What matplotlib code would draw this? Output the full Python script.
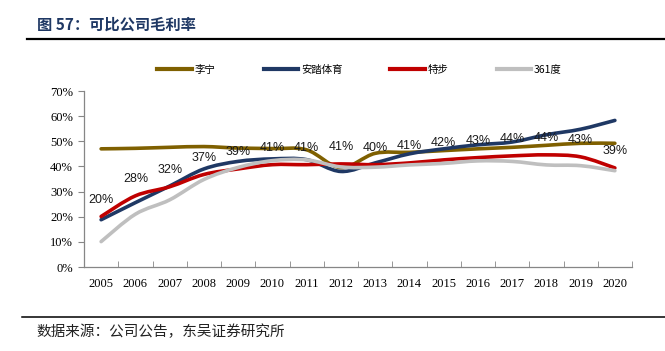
import matplotlib
matplotlib.use("Agg")
import matplotlib.pyplot as plt
from matplotlib.path import Path
from matplotlib.patches import PathPatch
from matplotlib.lines import Line2D

years = ['2005', '2006', '2007', '2008', '2009', '2010', '2011', '2012',
         '2013', '2014', '2015', '2016', '2017', '2018', '2019', '2020']

lining = [47.0, 47.2, 47.6, 47.9, 47.3, 47.1, 46.6, 39.5, 45.2, 45.6, 46.3, 47.0, 47.6, 48.4, 49.2, 49.2]
anta = [18.8, 25.6, 32.2, 39.0, 42.0, 43.0, 42.7, 38.0, 41.4, 45.0, 47.0, 48.6, 49.7, 52.6, 54.8, 58.3]
xtep = [20.1, 28.3, 31.9, 36.8, 39.0, 40.7, 40.7, 41.0, 40.7, 41.4, 42.6, 43.5, 44.2, 44.6, 43.8, 39.4]
s361 = [10.1, 21.0, 26.7, 34.8, 39.6, 42.3, 42.6, 39.8, 39.7, 40.6, 41.2, 42.2, 42.0, 40.6, 40.3, 38.3]

xtep_labels = ['20%', '28%', '32%', '37%', '39%', '41%', '41%', '41%',
               '40%', '41%', '42%', '43%', '44%', '44%', '43%', '39%']

names = ['李宁', '安踏体育', '特步', '361度']
colors = ['#7f6000', '#1f3864', '#c00000', '#bfbfbf']

CJK = ['Noto Sans CJK SC', 'DejaVu Sans']


def smooth_path(ys):
    # catmull-rom style curve through the points, like excel's smoothed lines
    xs = list(range(len(ys)))
    n = len(xs)
    verts = [(xs[0], ys[0])]
    codes = [Path.MOVETO]
    for i in range(n - 1):
        a = i - 1 if i > 0 else i
        d = i + 2 if i + 2 < n else i + 1
        c1 = (xs[i] + (xs[i + 1] - xs[a]) / 6, ys[i] + (ys[i + 1] - ys[a]) / 6)
        c2 = (xs[i + 1] - (xs[d] - xs[i]) / 6, ys[i + 1] - (ys[d] - ys[i]) / 6)
        verts += [c1, c2, (xs[i + 1], ys[i + 1])]
        codes += [Path.CURVE4] * 3
    return Path(verts, codes)


fig = plt.figure(figsize=(6.65, 3.51), dpi=100)
W, H = 665, 351
ax = fig.add_axes([84 / W, 1 - 267 / H, 548 / W, (267 - 91) / H])

for ys, c in zip([lining, anta, xtep, s361], colors):
    ax.add_patch(PathPatch(smooth_path(ys), fill=False, edgecolor=c, lw=2.6,
                           capstyle='round', joinstyle='round'))

for i, lab in enumerate(xtep_labels):
    ax.annotate(lab, (i, xtep[i]), xytext=(0, 12), textcoords='offset points',
                ha='center', va='center', fontsize=9, family='Liberation Sans',
                color='#1a1a1a')

ax.set_xlim(-0.5, len(years) - 0.5)
ax.set_ylim(0, 70)
ax.set_yticks(range(0, 71, 10))
ax.set_yticklabels([f'{v}%' for v in range(0, 71, 10)], family='Liberation Serif', fontsize=9)
ax.set_xticks(range(len(years)))
ax.set_xticklabels(years, family='Liberation Serif', fontsize=9)
ax.set_xticks([i - 0.5 for i in range(len(years) + 1)], minor=True)
ax.tick_params(axis='x', which='major', length=0, pad=8)
ax.tick_params(axis='x', which='minor', direction='in', length=4, color='#868686')
ax.tick_params(axis='y', direction='out', length=4, color='#868686', pad=4)
for s in ['top', 'right']:
    ax.spines[s].set_visible(False)
for s in ['left', 'bottom']:
    ax.spines[s].set_color('#868686')
    ax.spines[s].set_linewidth(0.9)

handles = [Line2D([], [], color=c, lw=3) for c in colors]
leg = fig.legend(handles, names, loc='center left', bbox_to_anchor=(148 / W, 1 - 70 / H),
                 ncol=4, frameon=False, handlelength=3.3, handletextpad=0.3,
                 columnspacing=4.6, prop={'family': CJK, 'size': 7.5})

fig.text(37 / W, 1 - 25 / H, '图 57：可比公司毛利率', family=CJK, fontsize=11,
         fontweight='bold', color='#1f3864', va='center')
fig.add_artist(Line2D([27 / W, 1], [1 - 38.5 / H] * 2, color='black', lw=1.6))
fig.add_artist(Line2D([22 / W, 1], [1 - 317 / H] * 2, color='black', lw=1.1))
fig.text(36 / W, 1 - 332 / H, '数据来源：公司公告，东吴证券研究所', family=CJK,
         fontsize=10.5, color='#222222', va='center')

fig.savefig('out.png', dpi=100)
